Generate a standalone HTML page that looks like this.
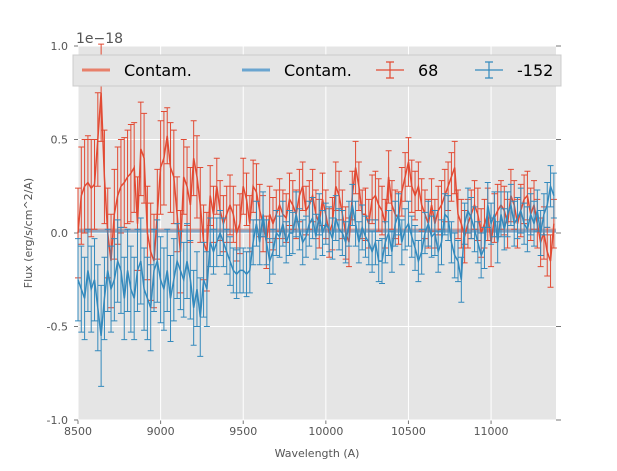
<!DOCTYPE html>
<html><head><meta charset="utf-8"><style>
body{margin:0;background:#fff;font-family:"DejaVu Sans","Liberation Sans",sans-serif}
svg text{font-family:"DejaVu Sans","Liberation Sans",sans-serif}
</style></head><body>
<svg id="chart" width="617" height="467" viewBox="0 0 617 467" xmlns="http://www.w3.org/2000/svg"></svg>
<script>
const xTicks=[8500,9000,9500,10000,10500,11000];
const yTicks=[-1.0,-0.5,0.0,0.5,1.0];
const yTickLabels=["-1.0","-0.5","0.0","0.5","1.0"];
const startWave=8500, stepWave=20;
const redVals=[0.0,0.2,0.25,0.27,0.24,0.26,0.5,0.75,0.3,0.0,
-0.15,0.1,0.2,0.25,0.27,0.3,0.32,0.35,0.05,0.45,
0.4,0.0,-0.1,-0.15,0.1,0.35,0.4,0.52,0.35,0.3,
0.1,-0.1,0.3,0.25,0.15,0.4,0.3,0.15,-0.05,-0.1,
0.2,0.1,0.25,0.12,0.05,0.1,0.15,0.1,0.0,0.05,
0.25,0.18,0.05,0.25,0.22,0.12,0.05,-0.05,0.1,0.05,
0.1,0.15,0.1,0.08,0.18,0.15,0.1,0.2,0.25,0.12,
0.15,0.2,0.1,0.05,0.18,0.1,0.0,0.05,0.25,0.2,
0.1,0.0,-0.05,0.2,0.35,0.25,0.1,0.1,0.05,0.18,
0.2,0.15,0.12,0.05,0.3,0.15,0.1,0.08,0.22,0.3,
0.38,0.25,0.2,0.25,0.15,0.1,0.05,0.15,0.05,0.12,
0.15,0.2,0.25,0.3,0.35,0.1,0.05,-0.02,0.05,0.1,
0.15,0.1,0.0,0.05,0.1,-0.05,0.08,0.12,0.15,0.12,
0.05,0.2,0.15,0.05,0.12,0.18,0.2,0.1,0.15,0.05,
-0.05,0.0,-0.1,-0.15,0.05];
const redErr=[0.24,0.26,0.25,0.25,0.26,0.24,0.25,0.26,0.25,0.24,
0.25,0.24,0.26,0.25,0.24,0.25,0.26,0.24,0.25,0.25,
0.24,0.25,0.26,0.25,0.24,0.25,0.25,0.15,0.24,0.25,
0.2,0.22,0.2,0.21,0.2,0.2,0.22,0.2,0.2,0.21,
0.16,0.15,0.15,0.16,0.15,0.15,0.16,0.15,0.15,0.16,
0.15,0.14,0.15,0.14,0.15,0.14,0.15,0.14,0.15,0.14,
0.13,0.14,0.13,0.13,0.14,0.13,0.13,0.14,0.13,0.13,
0.13,0.14,0.13,0.13,0.14,0.13,0.13,0.14,0.13,0.13,
0.13,0.14,0.13,0.13,0.14,0.13,0.13,0.14,0.13,0.13,
0.13,0.14,0.13,0.13,0.14,0.13,0.13,0.14,0.13,0.13,
0.13,0.14,0.13,0.13,0.14,0.13,0.13,0.14,0.13,0.13,
0.13,0.14,0.13,0.13,0.14,0.13,0.13,0.14,0.13,0.13,
0.13,0.14,0.13,0.13,0.14,0.13,0.13,0.14,0.13,0.13,
0.13,0.14,0.13,0.13,0.14,0.13,0.13,0.14,0.13,0.13,
0.13,0.14,0.13,0.14,0.13];
const blueVals=[-0.25,-0.3,-0.35,-0.2,-0.3,-0.25,-0.4,-0.55,-0.35,-0.2,
-0.3,-0.25,-0.15,-0.2,-0.35,-0.2,-0.3,-0.35,-0.2,-0.15,
-0.3,-0.35,-0.4,-0.2,-0.15,-0.25,-0.3,-0.2,-0.35,-0.25,
-0.15,-0.2,-0.25,-0.15,-0.25,-0.4,-0.3,-0.45,-0.25,-0.3,
-0.05,-0.1,-0.05,0.0,-0.05,-0.1,-0.15,-0.2,-0.22,-0.2,
-0.2,-0.22,-0.2,-0.05,0.05,-0.05,0.1,-0.05,-0.15,-0.1,
0.0,-0.02,0.05,-0.05,0.0,0.0,0.1,0.02,-0.05,-0.02,
0.05,0.08,-0.02,0.1,0.0,0.05,0.02,-0.03,0.08,0.02,
0.0,-0.05,0.05,0.15,0.05,-0.05,0.03,-0.02,-0.05,-0.1,
-0.05,-0.15,-0.15,-0.05,0.0,-0.1,0.05,0.1,-0.05,0.02,
0.05,-0.02,-0.08,-0.15,-0.1,0.0,0.05,-0.02,0.0,-0.1,
-0.05,0.1,0.08,-0.05,-0.12,-0.15,-0.25,0.05,0.12,0.08,
0.02,-0.05,-0.12,-0.08,0.15,0.05,0.1,-0.05,0.1,0.02,
0.1,0.15,0.05,0.08,0.12,0.05,0.02,0.1,0.05,0.12,
0.0,0.1,0.15,0.25,0.2];
const blueErr=[0.22,0.23,0.22,0.22,0.23,0.22,0.23,0.27,0.22,0.22,
0.23,0.22,0.22,0.23,0.22,0.22,0.23,0.22,0.22,0.23,
0.22,0.22,0.23,0.22,0.22,0.23,0.22,0.22,0.23,0.22,
0.2,0.21,0.2,0.2,0.21,0.2,0.2,0.21,0.2,0.2,
0.13,0.12,0.13,0.12,0.13,0.12,0.13,0.12,0.13,0.12,
0.12,0.12,0.12,0.12,0.12,0.12,0.12,0.12,0.12,0.12,
0.12,0.11,0.12,0.11,0.12,0.11,0.12,0.11,0.12,0.11,
0.12,0.11,0.12,0.11,0.12,0.11,0.12,0.11,0.12,0.11,
0.12,0.11,0.12,0.11,0.12,0.11,0.12,0.11,0.12,0.11,
0.12,0.11,0.12,0.11,0.12,0.11,0.12,0.11,0.12,0.11,
0.12,0.11,0.12,0.11,0.12,0.11,0.12,0.11,0.12,0.11,
0.12,0.11,0.12,0.11,0.12,0.11,0.12,0.11,0.12,0.11,
0.12,0.11,0.12,0.11,0.12,0.11,0.12,0.11,0.12,0.11,
0.12,0.11,0.12,0.11,0.12,0.11,0.12,0.11,0.12,0.11,
0.12,0.11,0.12,0.11,0.12];
const contamRed=0.015, contamBlue=0.01;

const X0=78,X1=556,Y0=46,Y1=420,xMin=8500,xMax=11393,yMin=-1,yMax=1;
const sx=v=>X0+(v-xMin)/(xMax-xMin)*(X1-X0);
const sy=v=>Y1-(v-yMin)/(yMax-yMin)*(Y1-Y0);
const NS="http://www.w3.org/2000/svg";
const svg=document.getElementById('chart');
function mk(tag,attrs,parent){const e=document.createElementNS(NS,tag);for(const k in attrs)e.setAttribute(k,attrs[k]);(parent||svg).appendChild(e);return e;}

const bg=mk('rect',{x:X0,y:Y0,width:X1-X0,height:Y1-Y0,fill:'#e5e5e5'});


xTicks.forEach(t=>{
  const g=mk('line',{x1:sx(t),x2:sx(t),y1:Y0,y2:Y1,stroke:'#fff','stroke-width':1});
  
  
  const tx=mk('text',{x:sx(t),y:Y1+15,'font-size':11,fill:'#555','text-anchor':'middle'});
  tx.textContent=t;
  
  
  mk('line',{x1:sx(t),x2:sx(t),y1:Y1,y2:Y1+4,stroke:'#777'});
});
yTicks.forEach((t,i)=>{
  const g=mk('line',{x1:X0,x2:X1,y1:sy(t),y2:sy(t),stroke:'#fff','stroke-width':1});
  
  
  const tx=mk('text',{x:X0-10,y:sy(t)+4,'font-size':11,fill:'#555','text-anchor':'end'});
  tx.textContent=yTickLabels[i];
  
  
  mk('line',{x1:X0-4,x2:X0,y1:sy(t),y2:sy(t),stroke:'#777'});
  mk('line',{x1:X1,x2:X1+5,y1:sy(t),y2:sy(t),stroke:'#777'});
});

function contam(v,color,name){
  const l=mk('line',{x1:sx(startWave),x2:sx(xMax),y1:sy(v),y2:sy(v),stroke:color,'stroke-width':3.5,'stroke-opacity':0.7});
  
  
}
function series(vals,errs,color,name){
  const g=mk('g',{});
  
  
  let d='';
  vals.forEach((v,i)=>{
    const x=sx(startWave+i*stepWave);
    const lo=sy(v-errs[i]),hi=sy(v+errs[i]);
    mk('path',{d:`M${x},${lo}V${hi}M${x-3},${lo}H${x+3}M${x-3},${hi}H${x+3}`,stroke:color,'stroke-width':1,fill:'none'},g);
    d+=(i?'L':'M')+x.toFixed(1)+','+sy(v).toFixed(1);
  });
  const p=mk('path',{d,stroke:color,'stroke-width':1.5,fill:'none'},g);
  
  
}
contam(contamRed,'#e8806a','contam-red-line');
contam(contamBlue,'#6aa5d0','contam-blue-line');
series(redVals,redErr,'#e24a33','series-68');
series(blueVals,blueErr,'#348abd','series-neg152');

const lg=mk('g',{});


mk('rect',{x:73,y:55,width:488,height:31,fill:'#e5e5e5',stroke:'#ccc'},lg);
const items=[{x:82,c:'#e8806a',t:'Contam.',k:'line'},{x:242,c:'#6aa5d0',t:'Contam.',k:'line'},{x:376,c:'#e24a33',t:'68',k:'err'},{x:475,c:'#348abd',t:'-152',k:'err'}];
items.forEach(it=>{
  const e=mk('g',{},lg);
  
  
  if(it.k==='line') mk('line',{x1:it.x,x2:it.x+28,y1:70,y2:70,stroke:it.c,'stroke-width':3},e);
  else mk('path',{d:`M${it.x},70H${it.x+28}M${it.x+14},62V78M${it.x+10},62H${it.x+18}M${it.x+10},78H${it.x+18}`,stroke:it.c,'stroke-width':1.2,fill:'none'},e);
  const t=mk('text',{x:it.x+42,y:76,'font-size':16,fill:'#000'},e);
  t.textContent=it.t;
});

const ex=mk('text',{x:76,y:43,'font-size':14,fill:'#555'});
ex.textContent='1e\u221218';


const xl=mk('text',{x:(X0+X1)/2,y:457,'font-size':11,fill:'#555','text-anchor':'middle'});
xl.textContent='Wavelength (A)';


const yl=mk('text',{x:0,y:0,'font-size':11,fill:'#555','text-anchor':'middle',transform:`translate(32,${(Y0+Y1)/2}) rotate(-90)`});
yl.textContent='Flux (erg/s/cm^2/A)';


</script>
</body></html>
